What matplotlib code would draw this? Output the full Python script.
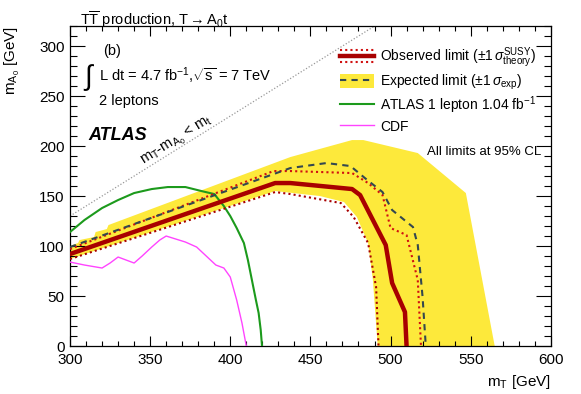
import numpy as np
import matplotlib.pyplot as plt
from matplotlib.lines import Line2D
from matplotlib.patches import Patch
from matplotlib.legend_handler import HandlerBase

plt.rcParams['font.family'] = ['Liberation Sans', 'DejaVu Sans']
plt.rcParams['mathtext.fontset'] = 'custom'
plt.rcParams['mathtext.rm'] = 'Liberation Sans'
plt.rcParams['mathtext.it'] = 'Liberation Sans:italic'
plt.rcParams['mathtext.bf'] = 'Liberation Sans:bold'

# observed limit and its +-1 sigma(theory) lines
obs_x = [300, 428, 437.5, 476, 481, 497, 501, 509, 510]
obs_y = [92, 163, 163, 157, 151, 101, 63, 34, 0]
obs_up_x = [300, 427, 437.5, 476, 486, 495, 500, 510, 517, 519]
obs_up_y = [97, 175, 175, 173, 163, 151, 118, 111, 66, 0]
obs_dn_x = [300, 428, 437.5, 469, 477, 486, 491, 492.5]
obs_dn_y = [87, 154, 152, 143, 129, 103, 59, 0]

# expected limit and +-1 sigma(exp) band
exp_x = [300, 437.5, 460, 475, 485.5, 495, 501, 514, 517, 520, 522]
exp_y = [99, 178, 183, 180, 166, 154, 136, 119, 101, 49, 0]
band_up_x = [300, 305, 306, 315, 316, 323, 324, 437.5, 476, 483, 517, 547, 565]
band_up_y = [100, 103, 106, 109, 114, 117, 121, 189, 206, 206, 193, 153, 0]
band_dn_x = [492, 489, 486, 479, 471, 456, 428, 300]
band_dn_y = [0, 66, 103, 129, 144, 150, 155, 87]

# older results
atlas1l_x = [300, 309, 320, 330, 340, 351, 361, 372, 382, 390, 396, 400, 404,
             408.5, 411, 413.5, 416, 417.7, 419, 419.8]
atlas1l_y = [114, 126, 138, 146, 153, 157, 159, 159, 155, 152, 140, 130, 118,
             103, 86, 66, 46, 33, 16, 0]
cdf_x = [300, 309, 320, 325, 330, 335, 340, 345, 351, 356, 360, 366, 372, 379,
         385, 391, 396, 400, 404, 407.3, 410]
cdf_y = [84, 81, 78, 83, 89, 86, 83, 90, 99, 106, 110, 107, 104, 99,
         90, 81, 78, 69, 46, 23, 0]

m_top = 170
kin_x = [300, 320 + m_top]

RED = '#a80000'
RED2 = '#d01010'
YELLOW = '#fde93b'
SLATE = '#34484f'
GREEN = '#1c9a1c'
MAGENTA = '#ff44ff'


class HandlerObserved(HandlerBase):
    # thick line with dotted lines above and below
    def create_artists(self, legend, orig_handle, xdescent, ydescent,
                       width, height, fontsize, trans):
        x = [-xdescent, -xdescent + width]
        yc = -ydescent + height / 2
        off = height * 0.45
        a = Line2D(x, [yc + off] * 2, color=RED2, lw=1.5, ls=(0, (1, 1.5)), transform=trans)
        b = Line2D(x, [yc] * 2, color=RED, lw=3.2, transform=trans)
        c = Line2D(x, [yc - off] * 2, color=RED2, lw=1.5, ls=(0, (1, 1.5)), transform=trans)
        return [a, b, c]


fig = plt.figure(figsize=(5.81, 3.94), dpi=100)
ax = fig.add_axes([0.1205, 0.1218, 0.8275, 0.812])

ax.fill(band_up_x + band_dn_x, band_up_y + band_dn_y, color=YELLOW, lw=0, zorder=1)
ax.plot(kin_x, np.array(kin_x) - m_top, color='#999999', lw=0.9, ls=(0, (1, 1.5)), zorder=2)
ax.plot(atlas1l_x, atlas1l_y, color=GREEN, lw=1.5, zorder=3)
ax.plot(cdf_x, cdf_y, color=MAGENTA, lw=1.0, zorder=3)
ax.plot(obs_up_x, obs_up_y, color=RED2, lw=1.5, ls=(0, (1, 1.5)), zorder=4)
ax.plot(obs_dn_x, obs_dn_y, color=RED, lw=1.5, ls=(0, (1, 1.5)), zorder=4)
ax.plot(exp_x, exp_y, color=SLATE, lw=1.5, ls=(0, (3, 2.5)), zorder=5)
ax.plot(obs_x, obs_y, color=RED, lw=3.2, zorder=6)

ax.set_xlim(300, 600)
ax.set_ylim(0, 320)
ax.set_xticks(np.arange(300, 601, 50))
ax.set_xticks(np.arange(300, 601, 10), minor=True)
ax.set_yticks(np.arange(0, 301, 50))
ax.set_yticks(np.arange(0, 321, 10), minor=True)
ax.tick_params(which='both', direction='in', top=True, right=True, labelsize=11, width=0.8)
ax.tick_params(axis='x', which='major', length=7, pad=5)
ax.tick_params(axis='x', which='minor', length=3.5)
ax.tick_params(axis='y', which='major', length=11, pad=4)
ax.tick_params(axis='y', which='minor', length=5)
for s in ax.spines.values():
    s.set_linewidth(0.9)

ax.set_xlabel(r'm$_\mathrm{T}$ [GeV]', fontsize=11, loc='right', labelpad=4)
ax.set_ylabel(r'm$_{\mathrm{A}_0}$ [GeV]', fontsize=11, loc='top', labelpad=12)

fig.text(0.138, 0.975, r'T$\overline{\mathrm{T}}$ production, T $\!\!\rightarrow\!\!$ A$_0$t',
         fontsize=10.5, va='top')
ax.text(0.068, 0.945, '(b)', transform=ax.transAxes, fontsize=10.5, va='top')
ax.text(0.028, 0.84, r'$\int$', transform=ax.transAxes, fontsize=20, va='center')
ax.text(0.06, 0.845, r'L dt = 4.7 fb$^{-1}$,$\sqrt{\mathrm{s}}$ = 7 TeV',
        transform=ax.transAxes, fontsize=10.5, va='center')
ax.text(0.06, 0.765, '2 leptons', transform=ax.transAxes, fontsize=10.5, va='center')
ax.text(0.038, 0.657, 'ATLAS', transform=ax.transAxes, fontsize=13,
        fontweight='bold', fontstyle='italic', va='center')
ax.text(0.743, 0.605, 'All limits at 95% CL', transform=ax.transAxes, fontsize=9.5, va='center')
ax.text(367, 205, r'm$_\mathrm{T}$-m$_{\mathrm{A}_0}$ < m$_\mathrm{t}$', fontsize=10.5,
        rotation=32, ha='center', va='center', rotation_mode='anchor')

handles = [Line2D([], []),
           (Patch(color=YELLOW, lw=0), Line2D([], [], color=SLATE, lw=1.5, ls=(0, (3, 2.5)))),
           Line2D([], [], color=GREEN, lw=1.5),
           Line2D([], [], color=MAGENTA, lw=1.0)]
labels = [r'Observed limit ($\pm1\,\sigma^{\mathrm{SUSY}}_{\mathrm{theory}}$)',
          r'Expected limit ($\pm1\,\sigma_{\mathrm{exp}}$)',
          r'ATLAS 1 lepton 1.04 fb$^{-1}$',
          'CDF']
ax.legend(handles, labels, loc='upper left', bbox_to_anchor=(0.562, 0.94),
          frameon=False, fontsize=10, handlelength=2.4, handleheight=1.2,
          handletextpad=0.45, labelspacing=0.2, borderpad=0, borderaxespad=0,
          handler_map={handles[0]: HandlerObserved()})

fig.savefig('out.png', dpi=100)
